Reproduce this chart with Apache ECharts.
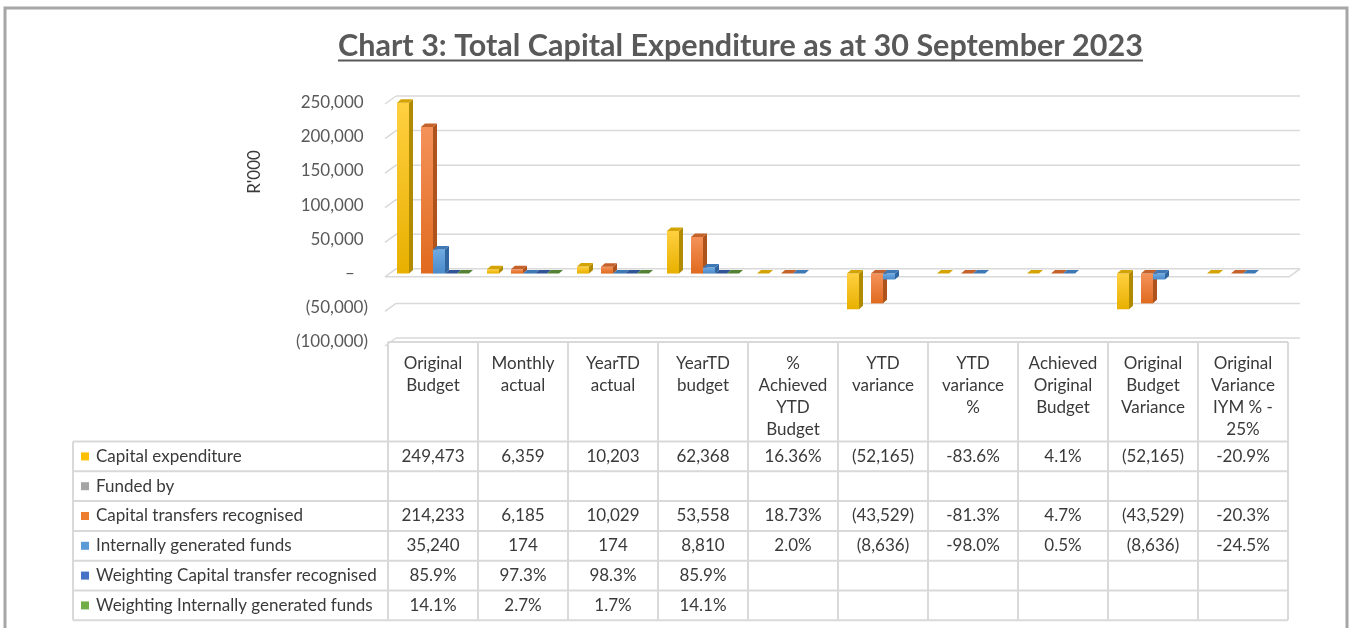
<!DOCTYPE html>
<html><head><meta charset="utf-8">
<script src="https://cdn.jsdelivr.net/npm/echarts@6/dist/echarts.min.js"></script>
<style>html,body{margin:0;padding:0;background:#fff}#c{width:1354px;height:628px}</style>
</head><body><div id="c"></div>
<script>
// ---------- data ----------
const titleText = 'Chart 3: Total Capital Expenditure as at 30 September 2023';
const yAxisTitle = "R'000";
const categories = ['Original\nBudget','Monthly\nactual','YearTD\nactual','YearTD\nbudget','%\nAchieved\nYTD\nBudget','YTD\nvariance','YTD\nvariance\n%','Achieved\nOriginal\nBudget','Original\nBudget\nVariance','Original\nVariance\nIYM % -\n25%'];
const seriesNames = ['Capital expenditure','Funded by','Capital transfers recognised','Internally generated funds','Weighting Capital transfer recognised','Weighting Internally generated funds'];
const capitalExpenditure = ['249,473','6,359','10,203','62,368','16.36%','(52,165)','-83.6%','4.1%','(52,165)','-20.9%'];
const fundedBy = ['','','','','','','','','',''];
const capitalTransfers = ['214,233','6,185','10,029','53,558','18.73%','(43,529)','-81.3%','4.7%','(43,529)','-20.3%'];
const internalFunds = ['35,240','174','174','8,810','2.0%','(8,636)','-98.0%','0.5%','(8,636)','-24.5%'];
const weightingTransfers = ['85.9%','97.3%','98.3%','85.9%','','','','','',''];
const weightingInternal = ['14.1%','2.7%','1.7%','14.1%','','','','','',''];
const yTicks = [-100000,-50000,0,50000,100000,150000,200000,250000];

// ---------- style ----------
const rows = [capitalExpenditure, fundedBy, capitalTransfers, internalFunds, weightingTransfers, weightingInternal];
const palette = [
  {key:'#FFC000', light:'#FFD040', dark:'#E8B000', top:'#D4A406', side:'#B08A00'},
  {key:'#A5A5A5', light:'#B5B5B5', dark:'#959595', top:'#8A8A8A', side:'#7A7A7A'},
  {key:'#ED7D31', light:'#F4925A', dark:'#E06A1E', top:'#C4622A', side:'#AE531C'},
  {key:'#5B9BD5', light:'#6EAAE2', dark:'#4C8BC9', top:'#3E78B5', side:'#2F66A0'},
  {key:'#4472C4', light:'#4C7CD0', dark:'#3A64B2', top:'#2F5597', side:'#284A86'},
  {key:'#70AD47', light:'#7BB852', dark:'#62A03C', top:'#548235', side:'#4A742E'}
];
const FONT = 'Lato, "Open Sans", sans-serif';
const FS = 17;
const TXT = '#3a3a3a';
const GRID_COLOR = '#d9d9d9';
const FRONT = {left:388, top:102.5, width:900, height:239.5};
const BACK = {left:396, top:96, width:904, height:242};
const SLANT_DX = 11, SLANT_DY = 8;
const BAR_FRAC = 12/90, BAR_OFF = 9/90, DX = 4, DY = 3.5;
const HEADER_H = 99.5, ROW_H = 29.8, LABEL_W = 315;

function parseCell(s){
  if (s === '') return null;
  s = s.trim(); let neg = false;
  if (s[0] === '(') { neg = true; s = s.slice(1, -1); }
  const pct = s.endsWith('%'); if (pct) s = s.slice(0, -1);
  let v = parseFloat(s.replace(/,/g, '')); if (pct) v /= 100;
  return neg ? -v : v;
}

function barRenderer(slot){
  const col = palette[slot];
  return function(params, api){
    const c = api.value(0), v = api.value(1);
    const p0 = api.coord([c, 0]), p1 = api.coord([c, v]);
    const catW = api.size([1, 0])[0];
    const bw = catW * BAR_FRAC;
    const xL = p0[0] - catW / 2 + catW * BAR_OFF + slot * bw;
    const yTop = Math.min(p0[1], p1[1]), yBot = Math.max(p0[1], p1[1]);
    return {type:'group', children:[
      {type:'polygon', shape:{points:[[xL+bw,yTop],[xL+bw+DX,yTop-DY],[xL+bw+DX,yBot-DY],[xL+bw,yBot]]}, style:{fill:col.side}},
      {type:'rect', shape:{x:xL, y:yTop, width:bw, height:yBot-yTop}, style:{fill:new echarts.graphic.LinearGradient(0,0,0,1,[{offset:0,color:col.light},{offset:1,color:col.dark}])}},
      {type:'polygon', shape:{points:[[xL,yTop],[xL+bw,yTop],[xL+bw+DX,yTop-DY],[xL+DX,yTop-DY]]}, style:{fill:col.top}}
    ]};
  };
}

function ln(x1,y1,x2,y2,w,color){
  return {type:'line', shape:{x1,y1,x2,y2}, style:{stroke:color||GRID_COLOR, lineWidth:w||1.5}};
}

function wallRenderer(params, api){
  const v = api.value(1);
  const p = api.coord([0, v]), pr = api.coord([1, v]);
  const ch = [ln(p[0]-SLANT_DX, p[1]+SLANT_DY, p[0], p[1]), ln(p[0], p[1], pr[0], pr[1])];
  if (v === 0) {
    const fr = [pr[0]-SLANT_DX, pr[1]+SLANT_DY];
    ch.push(ln(p[0]-SLANT_DX, p[1]+SLANT_DY, fr[0], fr[1]));
    ch.push(ln(fr[0], fr[1], pr[0], pr[1]));
  }
  return {type:'group', children:ch};
}

function tableRenderer(params, api){
  const c = api.value(0);
  const p = api.coord([c, api.value(1)]);
  const w = api.size([1, 0])[0];
  const xL = p[0] - w/2, xR = p[0] + w/2, top = p[1];
  const rowTop = top + HEADER_H, bottom = rowTop + ROW_H * rows.length;
  const ch = [];
  ch.push(ln(xL, top, xR, top, 2));
  ch.push(ln(xL, top, xL, bottom, 2));
  ch.push(ln(xR, top, xR, bottom, 2));
  for (let r = 0; r <= rows.length; r++) ch.push(ln(xL, rowTop + r*ROW_H, xR, rowTop + r*ROW_H, 2));
  rows.forEach((row, r) => {
    if (row[c] !== '') ch.push({type:'text', style:{text:row[c], x:p[0], y:rowTop + (r+0.5)*ROW_H, align:'center', verticalAlign:'middle', fill:TXT, font:FS + 'px ' + FONT}});
  });
  if (c === 0) {
    const xl2 = xL - LABEL_W;
    ch.push(ln(xl2, rowTop, xl2, bottom, 2));
    for (let r = 0; r <= rows.length; r++) ch.push(ln(xl2, rowTop + r*ROW_H, xL, rowTop + r*ROW_H, 2));
    seriesNames.forEach((name, r) => {
      const cy = rowTop + (r+0.5)*ROW_H;
      ch.push({type:'rect', shape:{x:xl2+8, y:cy-4, width:8, height:8}, style:{fill:palette[r].key}});
      ch.push({type:'text', style:{text:name, x:xl2+23, y:cy, align:'left', verticalAlign:'middle', fill:TXT, font:FS + 'px ' + FONT}});
    });
  }
  return {type:'group', children:ch};
}

// title sizing
const ctx = document.createElement('canvas').getContext('2d');
ctx.font = 'bold 24px ' + FONT;
const tw24 = ctx.measureText(titleText).width;
const TITLE_W = 805, TITLE_CX = 740.5;
const titleSize = 24 * TITLE_W / tw24;

const chart = echarts.init(document.getElementById('c'), null, {renderer:'canvas'});
const yMin = yTicks[0], yMax = yTicks[yTicks.length-1], yStep = yTicks[1]-yTicks[0];

const barSeries = rows.map((row, i) => ({
  type:'custom', name:seriesNames[i], xAxisIndex:1, yAxisIndex:1, silent:true,
  data: row.map((s, ci) => [ci, parseCell(s)]).filter(d => d[1] !== null),
  renderItem: barRenderer(i), z: 10 + i
}));

chart.setOption({
  animation:false,
  backgroundColor:'#fff',
  grid:[
    Object.assign({containLabel:false, outerBoundsMode:'none'}, BACK),
    Object.assign({containLabel:false, outerBoundsMode:'none'}, FRONT)
  ],
  xAxis:[
    {gridIndex:0, type:'value', min:0, max:1, show:false},
    {gridIndex:1, type:'category', data:categories, boundaryGap:true,
     axisLine:{show:false}, axisTick:{show:false}, splitLine:{show:false},
     axisLabel:{interval:0, margin:11, verticalAlign:'top', lineHeight:21.8, fontSize:FS, fontFamily:FONT, color:TXT}}
  ],
  yAxis:[
    {gridIndex:0, type:'value', min:yMin, max:yMax, interval:yStep, show:false, splitLine:{show:false}},
    {gridIndex:1, type:'value', min:yMin, max:yMax, interval:yStep,
     axisLine:{show:false}, axisTick:{show:false}, splitLine:{show:false},
     axisLabel:{margin:20, fontSize:FS, fontFamily:FONT, color:'#595959', padding:[7,0,0,0],
       formatter:v => v > 0 ? v.toLocaleString('en-US') + ' ' : (v < 0 ? '(' + Math.abs(v).toLocaleString('en-US') + ')' : '–   ')}}
  ],
  graphic:[
    {type:'rect', shape:{x:5, y:8, width:1342, height:640}, style:{fill:'none', stroke:'#a6a6a6', lineWidth:3}, silent:true},
    {type:'text', x:TITLE_CX, y:46, style:{text:titleText, align:'center', verticalAlign:'middle', fill:'#595959', font:'bold ' + titleSize.toFixed(2) + 'px ' + FONT}, silent:true},
    {type:'line', shape:{x1:TITLE_CX - TITLE_W/2, y1:60.5, x2:TITLE_CX + TITLE_W/2, y2:60.5}, style:{stroke:'#595959', lineWidth:2}, silent:true},
    {type:'text', x:255, y:172, rotation:Math.PI/2, style:{text:yAxisTitle, align:'center', verticalAlign:'middle', fill:TXT, font:FS + 'px ' + FONT}, silent:true}
  ],
  series:[
    {type:'custom', name:'wall', xAxisIndex:0, yAxisIndex:0, silent:true, z:1,
     data: yTicks.map(v => [0, v]), renderItem: wallRenderer},
    {type:'custom', name:'table', xAxisIndex:1, yAxisIndex:1, silent:true, z:2,
     data: categories.map((_, i) => [i, yMin]), renderItem: tableRenderer}
  ].concat(barSeries)
});
</script>
</body></html>
